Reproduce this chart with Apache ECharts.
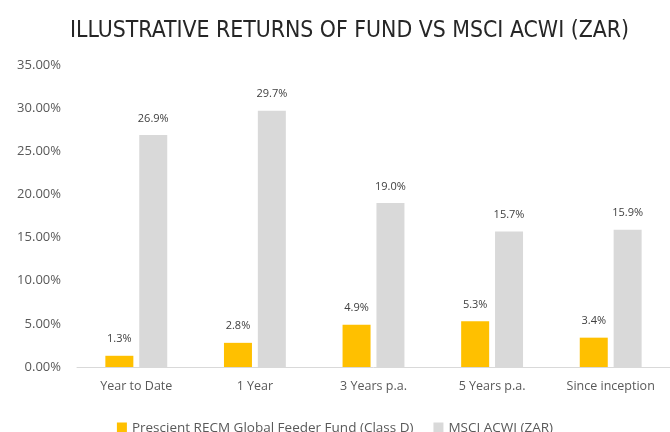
<!DOCTYPE html>
<html>
<head>
<meta charset="utf-8">
<script src="https://cdn.jsdelivr.net/npm/echarts@6/dist/echarts.min.js"></script>
<style>
html, body { margin: 0; padding: 0; background: #fff; }
#chart { width: 670px; height: 432px; }
</style>
</head>
<body>
<div id="chart"></div>
<script>
var categories = ['Year to Date', '1 Year', '3 Years p.a.', '5 Years p.a.', 'Since inception'];
var fundName = 'Prescient RECM Global Feeder Fund (Class D)';
var indexName = 'MSCI ACWI (ZAR)';
var fundValues = [1.3, 2.8, 4.9, 5.3, 3.4];
var indexValues = [26.9, 29.7, 19.0, 15.7, 15.9];
var titleText = 'ILLUSTRATIVE RETURNS OF FUND VS MSCI ACWI (ZAR)';

var myChart = echarts.init(document.getElementById('chart'));
var option = {
    animation: false,
    title: {
        text: titleText,
        left: 65,
        top: 15,
        textStyle: {
            fontFamily: 'DejaVu Sans Condensed',
            fontWeight: 'normal',
            fontSize: 22.8,
            color: '#262626'
        }
    },
    legend: {
        bottom: -8,
        left: 'center',
        itemWidth: 10,
        itemHeight: 11,
        itemGap: 20,
        icon: 'rect',
        textStyle: {
            fontFamily: 'Open Sans',
            fontSize: 13.5,
            color: '#595959'
        },
        data: [fundName, indexName]
    },
    grid: {
        left: 77,
        width: 602,
        top: 65,
        bottom: 65
    },
    xAxis: {
        type: 'category',
        data: categories,
        axisLine: { lineStyle: { color: '#d9d9d9', width: 1 } },
        axisTick: { show: false },
        axisLabel: {
            interval: 0,
            margin: 13,
            fontFamily: 'Open Sans',
            fontSize: 12.5,
            color: '#595959'
        }
    },
    yAxis: {
        type: 'value',
        min: 0,
        max: 35,
        interval: 5,
        splitLine: { show: false },
        axisLine: { show: false },
        axisTick: { show: false },
        axisLabel: {
            margin: 16,
            fontFamily: 'Open Sans',
            fontSize: 13,
            color: '#595959',
            formatter: function (v) { return v.toFixed(2) + '%'; }
        }
    },
    series: [
        {
            name: fundName,
            type: 'bar',
            barWidth: 28,
            barGap: '21%',
            itemStyle: { color: '#ffc000' },
            label: {
                show: true,
                position: 'top',
                distance: 11,
                fontFamily: 'Open Sans',
                fontSize: 11,
                color: '#404040',
                formatter: function (p) { return p.value.toFixed(1) + '%'; }
            },
            data: fundValues
        },
        {
            name: indexName,
            type: 'bar',
            barWidth: 28,
            itemStyle: { color: '#d9d9d9' },
            label: {
                show: true,
                position: 'top',
                distance: 11,
                fontFamily: 'Open Sans',
                fontSize: 11,
                color: '#404040',
                formatter: function (p) { return p.value.toFixed(1) + '%'; }
            },
            data: indexValues
        }
    ]
};
myChart.setOption(option);
</script>
</body>
</html>
